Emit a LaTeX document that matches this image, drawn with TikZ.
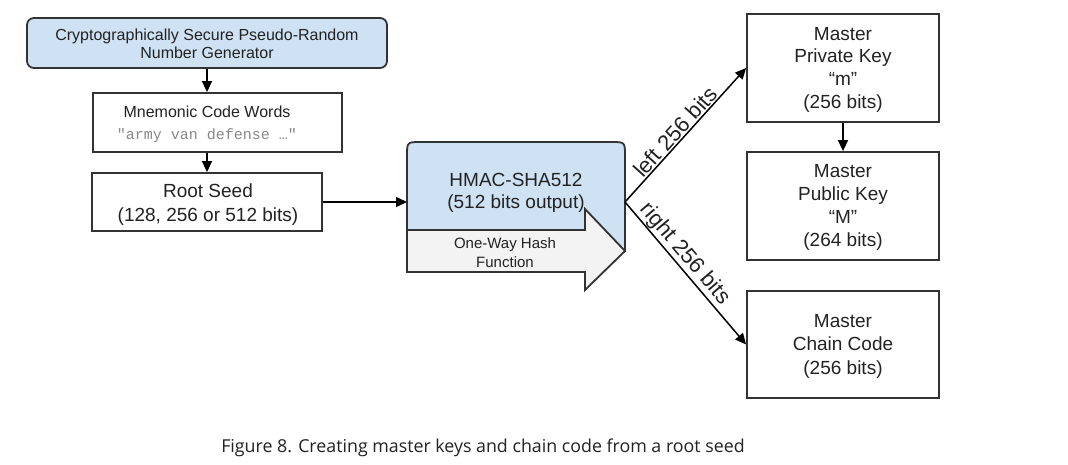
\documentclass[tikz,border=0pt]{standalone}
\usepackage{fontspec}
\setmainfont{Liberation Sans}
\newfontfamily\monofont{Liberation Mono}
\newfontfamily\capfont{Open Sans}
\usetikzlibrary{arrows.meta}
\definecolor{boxblue}{HTML}{CFE2F3}
\definecolor{arrowgrey}{HTML}{F3F3F3}
\definecolor{edgecol}{HTML}{333333}
\definecolor{txtcol}{HTML}{222222}
\definecolor{monogrey}{HTML}{888888}
\begin{document}
\begin{tikzpicture}[x=1pt,y=-1pt,
  box/.style={draw=edgecol, line width=1.8pt, inner sep=0pt},
  bigtext/.style={font=\fontsize{19}{23}\selectfont, align=center, text=txtcol, inner sep=0pt},
  smalltext/.style={font=\fontsize{16}{18}\selectfont, align=center, text=txtcol, inner sep=0pt},
  slopelabel/.style={font=\fontsize{22}{24}\selectfont, text=txtcol, sloped, above, inner sep=1pt},
  conn/.style={draw=black, line width=1.5pt, -{Triangle[length=11pt,width=10pt]}},
]
\fill[white] (0,0) rectangle (1068,465);
\useasboundingbox (0,0) rectangle (1068,465);

% left column
\node[box, fill=boxblue, rounded corners=7pt, minimum width=360pt, minimum height=50pt] (csprng) at (207,43) {};
\node[smalltext] (csprngtxt) at (207,44) {Cryptographically Secure Pseudo-Random\\Number Generator};

\node[box, minimum width=249pt, minimum height=59pt] (mnem) at (217.5,122.5) {};
\node[smalltext, font=\fontsize{16}{22}\selectfont] (mnemtxt) at (207,124) {Mnemonic Code Words\\{\monofont\fontsize{15}{22}\selectfont\color{monogrey}"army van defense …"}};

\node[box, minimum width=230pt, minimum height=58pt] (seed) at (207,202) {};
\node[bigtext, font=\fontsize{19}{24}\selectfont] (seedtxt) at (208,205) {Root Seed\\(128, 256 or 512 bits)};

% HMAC block
\fill[boxblue] (407,252) -- (407,156) .. controls (407,142) .. (421,142) -- (611,142) .. controls (625,142) .. (625,156) -- (625,252) -- cycle;
\draw[draw=edgecol, line width=1.8pt] (407,252) -- (407,156) .. controls (407,142) .. (421,142) -- (611,142) .. controls (625,142) .. (625,156) -- (625,252);
\draw[box, fill=arrowgrey] (407,230) -- (585,230) -- (585,209) -- (625,251) -- (585,290) -- (585,272) -- (407,272) -- cycle;
\node[bigtext, font=\fontsize{19}{22.5}\selectfont] (hmac) at (516,193) {HMAC-SHA512\\(512 bits output)};
\node[smalltext, font=\fontsize{15}{19}\selectfont] (oneway) at (505,252.5) {One-Way Hash\\Function};
\coordinate (split) at (625,202);

% right column
\node[box, minimum width=192pt, minimum height=108pt] (priv) at (843,68) {};
\node[bigtext, font=\fontsize{19}{22.7}\selectfont] (privtxt) at (843,69.5) {Master\\Private Key\\“m”\\(256 bits)};
\node[box, minimum width=192pt, minimum height=108pt] (pub) at (843,206) {};
\node[bigtext, font=\fontsize{19}{23.2}\selectfont] (pubtxt) at (843,207.5) {Master\\Public Key\\“M”\\(264 bits)};
\node[box, minimum width=192pt, minimum height=107pt] (chain) at (843,344.5) {};
\node[bigtext, font=\fontsize{19}{23.5}\selectfont] (chaintxt) at (843,346) {Master\\Chain Code\\(256 bits)};

% connectors
\draw[conn] (csprng) -- (mnem.north -| csprng);
\draw[conn] (mnem.south -| csprng) -- (seed);
\draw[conn] (seed) -- (407,202);
\draw[conn] (priv) -- (pub);
\draw[conn] (split) -- node[slopelabel, pos=0.475] (lefttxt) {left 256 bits} (priv.west);
\draw[conn] (split) -- node[slopelabel, pos=0.42] (righttxt) {right 256 bits} (chain.west);

% caption
\node[font=\capfont\fontsize{17.8}{20}\selectfont, text=txtcol, inner sep=0pt] (caption) at (483,448) {Figure 8. Creating master keys and chain code from a root seed};
\end{tikzpicture}
\end{document}
